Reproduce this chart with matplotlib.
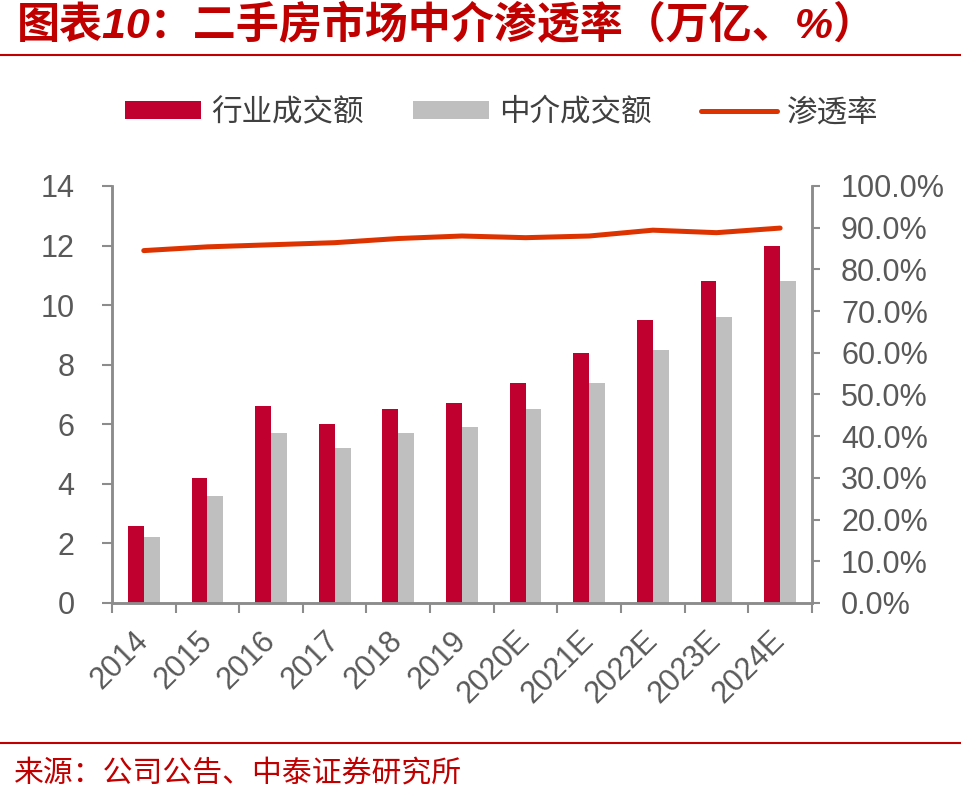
import numpy as np
import matplotlib
matplotlib.use("Agg")
import matplotlib.pyplot as plt
from matplotlib.ticker import FuncFormatter, MultipleLocator

plt.rcParams['font.family'] = ['Liberation Sans', 'Noto Sans CJK SC', 'DejaVu Sans']

# Data
years = ["2014", "2015", "2016", "2017", "2018", "2019",
         "2020E", "2021E", "2022E", "2023E", "2024E"]
industry_gtv = [2.6, 4.2, 6.6, 6.0, 6.5, 6.7, 7.4, 8.4, 9.5, 10.8, 12.0]
agent_gtv = [2.2, 3.6, 5.7, 5.2, 5.7, 5.9, 6.5, 7.4, 8.5, 9.6, 10.8]
penetration = [0.845, 0.854, 0.859, 0.864, 0.874, 0.880, 0.876, 0.880, 0.894, 0.888, 0.899]

RED = "#C0002F"
GRAY = "#BFBFBF"
LINE = "#DD3300"
TITLE_RED = "#C00000"
AXIS = "#8C8C8C"
TICKTXT = "#595959"

fig = plt.figure(figsize=(9.61, 7.91), dpi=100)
ax = fig.add_axes([0.1165, 0.2377, 0.7284, 0.5272])
ax2 = ax.twinx()

x = np.arange(len(years))
w = 0.25
b1 = ax.bar(x - w / 2, industry_gtv, width=w, color=RED, label="行业成交额")
b2 = ax.bar(x + w / 2, agent_gtv, width=w, color=GRAY, label="中介成交额")
ln, = ax2.plot(x, penetration, color=LINE, lw=3.6, solid_capstyle='round', label="渗透率")

ax.set_xlim(-0.5, len(years) - 0.5)
ax.set_ylim(0, 14)
ax.yaxis.set_major_locator(MultipleLocator(2))
ax2.set_ylim(0, 1.0)
ax2.yaxis.set_major_locator(MultipleLocator(0.1))
ax2.yaxis.set_major_formatter(FuncFormatter(lambda v, p: f"{v * 100:.1f}%"))

# x ticks: marks at category boundaries, labels at centres
ax.set_xticks(np.arange(-0.5, len(years)), minor=False)
ax.set_xticklabels([])
ax.set_xticks(x, minor=True)
ax.set_xticklabels(years, minor=True, rotation=45, ha='right', va='center',
                   rotation_mode='anchor', fontsize=22, color=TICKTXT)
ax.tick_params(axis='x', which='minor', length=0, pad=24)
ax.tick_params(axis='x', which='major', length=7, width=1.5, color=AXIS, direction='out')

ax.tick_params(axis='y', labelsize=22, labelcolor=TICKTXT, length=7, width=1.5,
               color=AXIS, pad=20)
ax2.tick_params(axis='y', labelsize=22, labelcolor=TICKTXT, length=6, width=1.5,
                color=AXIS, pad=15)

for a in (ax, ax2):
    a.spines['top'].set_visible(False)
    for s in ('left', 'right', 'bottom'):
        a.spines[s].set_color(AXIS)
        a.spines[s].set_linewidth(1.8)

# Legend
fig.legend(handles=[b1, b2, ln], loc='center', bbox_to_anchor=(0.522, 1 - 113 / 791),
           ncol=3, frameon=False, fontsize=22, handlelength=2.5, handleheight=0.55,
           handletextpad=0.33, columnspacing=1.6, labelcolor="#404040")

# Title, rules and source
fig.text(0.018, 1 - 26 / 791, "图表10：二手房市场中介渗透率（万亿、%）", fontsize=31,
         fontweight='bold', style='italic', color=TITLE_RED, va='center', ha='left')
fig.add_artist(plt.Line2D([0, 1], [1 - 55 / 791, 1 - 55 / 791], color=TITLE_RED, lw=1.5))
fig.add_artist(plt.Line2D([0, 1], [1 - 743 / 791, 1 - 743 / 791], color=TITLE_RED, lw=1.5))
fig.text(0.015, 1 - 774 / 791, "来源：公司公告、中泰证券研究所", fontsize=21.5,
         color=TITLE_RED, va='center', ha='left')

fig.savefig("out.png", dpi=100)
